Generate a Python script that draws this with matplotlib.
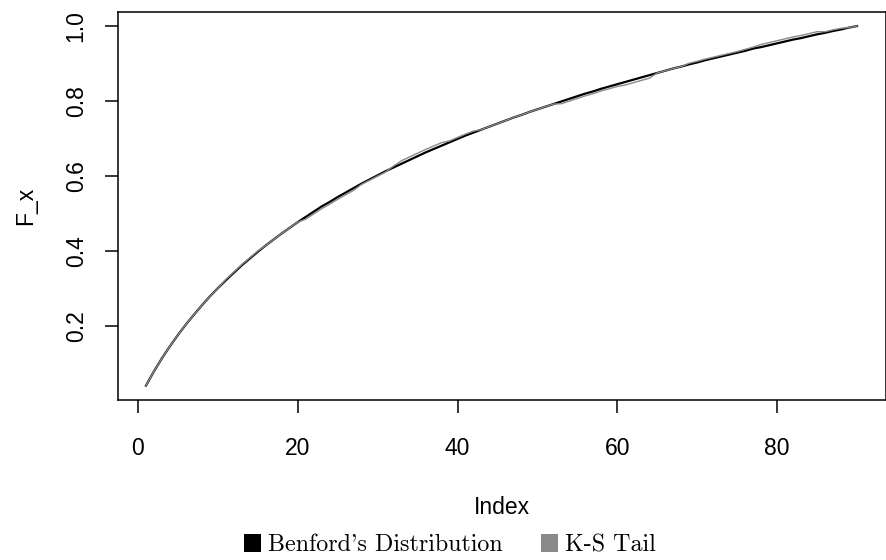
import numpy as np
import matplotlib.pyplot as plt
from matplotlib.patches import Patch

index = np.arange(1, 91)

benford = [0.041, 0.079, 0.114, 0.146, 0.176, 0.204, 0.230, 0.255, 0.279, 0.301,
           0.322, 0.342, 0.362, 0.380, 0.398, 0.415, 0.431, 0.447, 0.462, 0.477,
           0.491, 0.505, 0.519, 0.531, 0.544, 0.556, 0.568, 0.580, 0.591, 0.602,
           0.613, 0.623, 0.633, 0.643, 0.653, 0.663, 0.672, 0.681, 0.690, 0.699,
           0.708, 0.716, 0.724, 0.732, 0.740, 0.748, 0.756, 0.763, 0.771, 0.778,
           0.785, 0.792, 0.799, 0.806, 0.813, 0.820, 0.826, 0.833, 0.839, 0.845,
           0.851, 0.857, 0.863, 0.869, 0.875, 0.881, 0.887, 0.892, 0.898, 0.903,
           0.909, 0.914, 0.919, 0.924, 0.929, 0.934, 0.940, 0.944, 0.949, 0.954,
           0.959, 0.964, 0.968, 0.973, 0.978, 0.982, 0.987, 0.991, 0.996, 1.000]

ks_tail = [0.041, 0.079, 0.114, 0.146, 0.176, 0.204, 0.230, 0.255, 0.279, 0.301,
           0.324, 0.344, 0.364, 0.382, 0.400, 0.415, 0.431, 0.447, 0.462, 0.477,
           0.485, 0.499, 0.513, 0.525, 0.538, 0.550, 0.562, 0.578, 0.589, 0.600,
           0.611, 0.627, 0.641, 0.651, 0.661, 0.671, 0.680, 0.689, 0.694, 0.703,
           0.712, 0.720, 0.724, 0.732, 0.740, 0.748, 0.756, 0.763, 0.771, 0.778,
           0.785, 0.792, 0.793, 0.800, 0.807, 0.814, 0.820, 0.827, 0.833, 0.839,
           0.843, 0.849, 0.855, 0.861, 0.875, 0.881, 0.887, 0.892, 0.901, 0.906,
           0.912, 0.917, 0.922, 0.927, 0.932, 0.938, 0.944, 0.951, 0.956, 0.961,
           0.966, 0.971, 0.975, 0.980, 0.985, 0.985, 0.990, 0.994, 0.996, 1.000]

legend_labels = ["Benford's Distribution", "K-S Tail"]

plt.rcParams['font.family'] = ['Liberation Sans', 'DejaVu Sans']

fig = plt.figure(figsize=(8.86, 5.60), dpi=100)
ax = fig.add_axes([117.5 / 886, 160 / 560, 768 / 886, 388.3 / 560])

ax.plot(index, benford, color='black', lw=1.6)
ax.plot(index, ks_tail, color='#8a8a8a', lw=1.0)

# R-style 4% padding
ax.set_xlim(1 - 0.04 * 89, 90 + 0.04 * 89)
ax.set_ylim(0.041 - 0.04 * 0.959, 1.0 + 0.04 * 0.959)

ax.set_xticks([0, 20, 40, 60, 80])
ax.set_yticks([0.2, 0.4, 0.6, 0.8, 1.0])
ax.set_yticklabels(['0.2', '0.4', '0.6', '0.8', '1.0'], rotation=90, va='center')
ax.tick_params(length=9.5, width=1.1, labelsize=16.5)
ax.tick_params(axis='x', pad=17)
ax.tick_params(axis='y', pad=12)
for s in ax.spines.values():
    s.set_linewidth(1.1)

ax.set_xlabel('Index', fontsize=16.5, labelpad=26)
ax.set_ylabel('F_x', fontsize=16.5, labelpad=20)

handles = [Patch(facecolor='black', edgecolor='none'),
           Patch(facecolor='#8a8a8a', edgecolor='none')]
fig.legend(handles, legend_labels, loc='center', bbox_to_anchor=(450 / 886, 1 - 545 / 560),
           ncol=2, frameon=False, prop={'family': 'cmr10', 'size': 17.3},
           handlelength=0.7, handleheight=0.8, handletextpad=0.3, columnspacing=1.6)

fig.savefig('out.png', dpi=100)
